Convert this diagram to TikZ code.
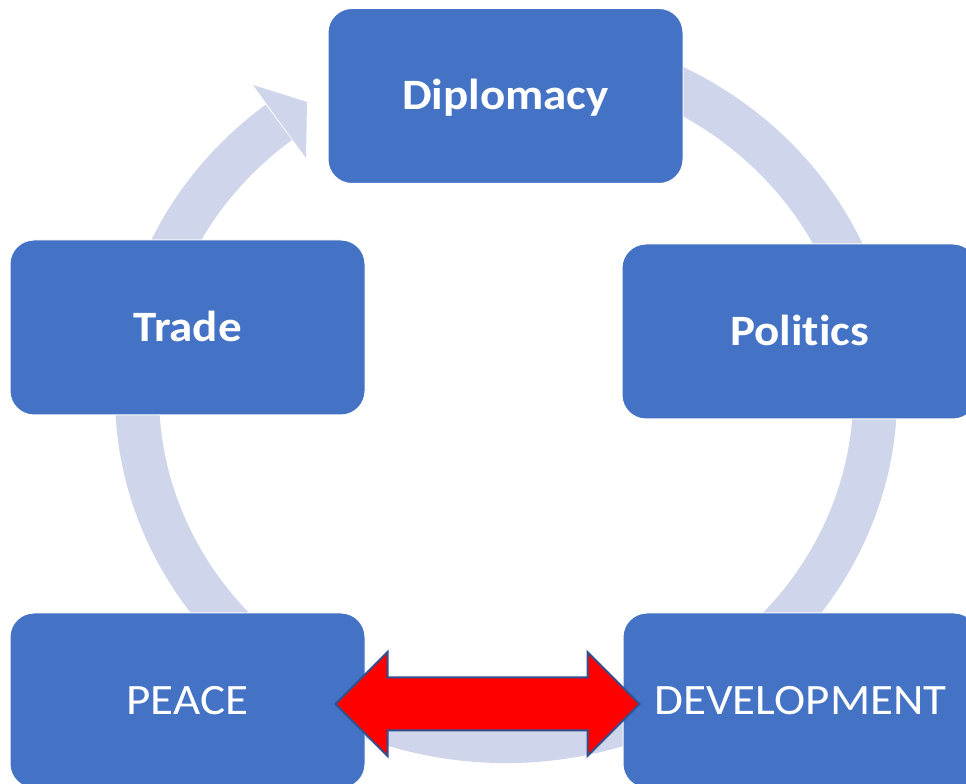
\documentclass[tikz,border=0pt]{standalone}
\usepackage{fontspec}
\setmainfont{Carlito}[Ligatures=NoCommon]
\usepackage{graphicx}
\usetikzlibrary{calc}
\definecolor{boxblue}{HTML}{4472C4}
\definecolor{ringgrey}{HTML}{CFD5EA}
\definecolor{arrowedge}{HTML}{2F528F}
\newcommand{\wtext}[1]{\scalebox{1.085}[1]{#1}}

\begin{document}
\begin{tikzpicture}[x=0.75pt,y=0.75pt,
    box/.style={draw=white,line width=0.75pt,fill=boxblue,rounded corners=18pt,
      minimum width=266.25pt,minimum height=131.25pt,inner sep=0pt,text=white,
      text height=21pt,text depth=0pt,font=\fontsize{32.5}{39}\selectfont},
    boldbox/.style={box,font=\fontsize{32.5}{39}\selectfont\bfseries},
    ring/.style={draw=ringgrey,line width=33pt},
    twoway/.style={fill=red,draw=arrowedge,line width=1.5pt,line join=miter}]
    \useasboundingbox (0,0) rectangle (966,784);
    \clip (0,0) rectangle (966,784);
    \draw[ring] (506,389) ++(110:369 and 346)
      arc[start angle=110, end angle=-232, x radius=369, y radius=346];
    \fill[ringgrey] (253,699) -- (307,682) -- (306,626) -- cycle;
    \node[boldbox] (dip) at (505.5,688) {\wtext{Diplomacy}};
    \node[boldbox] (tra) at (187.5,456.5) {\wtext{Trade}};
    \node[boldbox] (pol) at (799.5,452.5) {\wtext{Politics}};
    \node[box] (pea) at (187.5,83.5) {\wtext{PEACE}};
    \node[box] (dev) at (800.5,83.5) {\wtext{DEVELOPMENT}};
    \coordinate (lt) at ($(pea.east)+(-30,-3.5)$);
    \coordinate (rt) at ($(dev.west)+(17,-3.5)$);
    \draw[twoway] (lt) -- ++(52,52) -- ++(0,-25.5) -- ($(rt)+(-52,26.5)$)
      -- ++(0,25.5) -- (rt) -- ++(-52,-52) -- ++(0,25.5)
      -- ($(lt)+(52,-26.5)$) -- ++(0,-25.5) -- cycle;
  \end{tikzpicture}
\end{document}
